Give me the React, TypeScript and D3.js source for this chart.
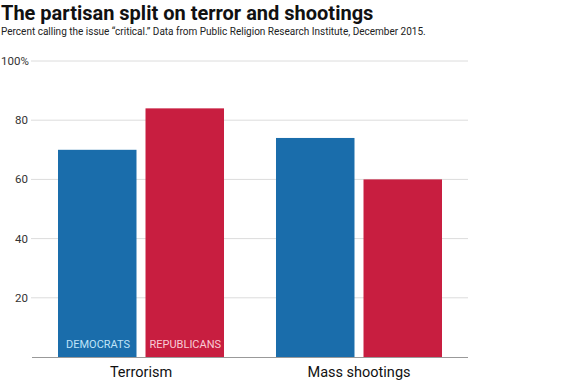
import React from "react";
import * as d3 from "d3";

const categories = ["Terrorism", "Mass shootings"];
const parties = ["DEMOCRATS", "REPUBLICANS"];
const democrats = [70, 74];
const republicans = [84, 60];
const yTicks = [20, 40, 60, 80, 100];

const W = 564;
const H = 383;
const colors = ["#1a6dab", "#c81e40"];
const labelColors = ["#bfe3f8", "#f8ccd6"];
const labelInset = [8, 4];

export default function App() {
  const y = d3.scaleLinear().domain([0, 100]).range([357, 61]);
  const x0 = d3.scaleBand().domain(categories).range([58, 442]).paddingInner(0.2385).paddingOuter(0);
  const x1 = d3.scaleBand().domain(parties).range([0, x0.bandwidth()]).paddingInner(0.103);
  const values = [democrats, republicans];
  const font = "Roboto, 'Liberation Sans', sans-serif";
  return (
    <svg width={W} height={H} style={{ position: "absolute", left: 0, top: 0, background: "#fff" }} fontFamily={font}>
      <text x={1} y={20} fontSize={20} fontWeight="bold" fill="#111">The partisan split on terror and shootings</text>
      <text x={1} y={35} fontSize={10} fill="#222">Percent calling the issue “critical.” Data from Public Religion Research Institute, December 2015.</text>
      {yTicks.map((t) => (
        <g key={t}>
          <line x1={31} x2={468} y1={y(t)} y2={y(t)} stroke="#dcdcdc" strokeWidth={1} />
          <text x={t === 100 ? 1 : 28} y={y(t) + 4} fontSize={11.5} fill="#333" textAnchor={t === 100 ? "start" : "end"}>{t === 100 ? "100%" : t}</text>
        </g>
      ))}
      {categories.map((c, ci) => (
        <g key={c} transform={`translate(${x0(c)},0)`}>
          {parties.map((p, pi) => {
            const v = values[pi][ci];
            const bx = x1(p) as number;
            return (
              <g key={p}>
                <rect x={bx} y={y(v)} width={x1.bandwidth()} height={y(0) - y(v)} fill={colors[pi]} />
                {ci === 0 && (
                  <text x={bx + labelInset[pi]} y={348} fontSize={11} fill={labelColors[pi]}>{p}</text>
                )}
              </g>
            );
          })}
          <text x={x0.bandwidth() / 2} y={377} fontSize={14.5} fill="#111" textAnchor="middle">{c}</text>
        </g>
      ))}
      <line x1={32} x2={468} y1={357.5} y2={357.5} stroke="#999" strokeWidth={1} />
    </svg>
  );
}
